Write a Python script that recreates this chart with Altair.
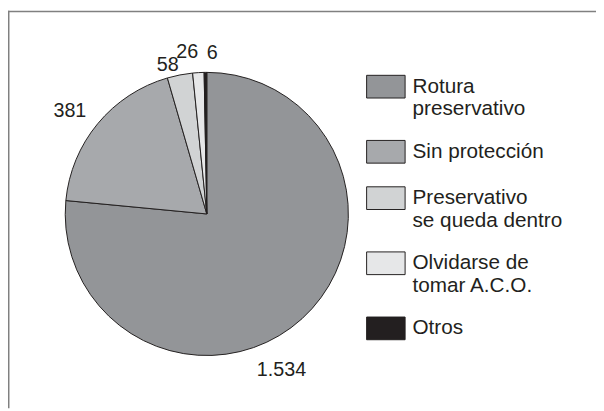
import altair as alt
import pandas as pd

# ---- data ----
categories = ["Rotura\npreservativo", "Sin protección", "Preservativo\nse queda dentro",
              "Olvidarse de\ntomar A.C.O.", "Otros"]
values = [1534, 381, 58, 26, 6]
value_labels = ["1.534", "381", "58", "26", "6"]
colors = ["#939598", "#a7a9ac", "#d1d3d4", "#e6e7e8", "#231f20"]

df = pd.DataFrame({"cat": categories, "value": values, "label": value_labels,
                   "order": list(range(len(values)))})
frame_df = pd.DataFrame({"k": [0]})

W, H = 596, 403
CX, CY = 201.5, 206
R = 143.5
FONT = "Liberation Sans"
INK = "#231f20"
total = sum(values)

base = alt.Chart(df).transform_stack(
    stack="value", groupby=[], as_=["v0", "v1"], sort=[alt.SortField("order")]
).transform_calculate(mid="(datum.v0 + datum.v1) / 2")

theta_scale = alt.Scale(domain=[0, total])

pie = base.mark_arc(outerRadius=R, stroke=INK, strokeWidth=1).encode(
    theta=alt.Theta("v0:Q", scale=theta_scale),
    theta2="v1:Q",
    x=alt.value(CX), y=alt.value(CY),
    color=alt.Color(
        "cat:N",
        scale=alt.Scale(domain=categories, range=colors),
        sort=categories,
        legend=alt.Legend(
            title=None, orient="none", legendX=363, legendY=57, padding=0,
            symbolType="M-1,-0.59H1V0.59H-1Z", symbolSize=1521,
            symbolStrokeColor=INK, symbolStrokeWidth=1, symbolOpacity=1,
            labelFont=FONT, labelFontSize=21, labelColor=INK,
            labelOffset=7, labelLimit=400, rowPadding=13,
            labelExpr="split(datum.label, '\\n')",
        ),
    ),
)

# label placement (radius, dx, dy) per value label
label_place = {
    "1.534": (172, -40, 31),
    "381": (175, -4, 7),
    "58": (156, -10, 2),
    "26": (165, -10, 1),
    "6": (163, 7, 0),
}

text_layers = []
for lab, (rad, dx, dy) in label_place.items():
    text_layers.append(
        base.transform_filter(alt.datum.label == lab).mark_text(
            radius=rad, dx=dx, dy=dy, font=FONT, fontSize=20, color=INK
        ).encode(
            theta=alt.Theta("mid:Q", stack=None, scale=theta_scale),
            x=alt.value(CX), y=alt.value(CY),
            text="label:N",
        )
    )

top_rule = alt.Chart(frame_df).mark_rule(color="#808080", strokeWidth=1.5).encode(
    x=alt.value(0), x2=alt.value(W), y=alt.value(0.75)
)
left_rule = alt.Chart(frame_df).mark_rule(color="#808080", strokeWidth=1.5).encode(
    x=alt.value(0.75), y=alt.value(0), y2=alt.value(H)
)

chart = alt.layer(pie, *text_layers, top_rule, left_rule).properties(
    width=W, height=H, padding=0, autosize=alt.AutoSizeParams(type="none")
).configure_view(stroke=None)

chart.save("out.html", embed_options={"renderer": "svg", "actions": False})
